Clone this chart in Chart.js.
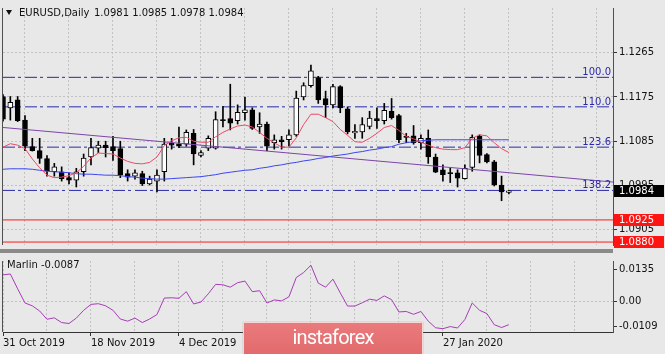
<!DOCTYPE html>
<html><head><meta charset="utf-8">
<script src="https://cdn.jsdelivr.net/npm/chart.js@4/dist/chart.umd.min.js"></script>
<style>
html,body{margin:0;padding:0;background:#e8e8e8;width:665px;height:354px;overflow:hidden;font-family:"DejaVu Sans",sans-serif;}
#wrap{position:relative;width:665px;height:354px;overflow:hidden;}
canvas{position:absolute;left:0;}
#main{top:0;}
#sub{top:253px;}
.sep{position:absolute;left:0;top:249px;width:613px;height:4px;background:#8a8a8a;}
.tri{position:absolute;left:6px;top:10px;width:0;height:0;border-left:3.5px solid transparent;border-right:3.5px solid transparent;border-top:5px solid #111;}
.txt{position:absolute;font-size:10px;line-height:12px;color:#111;white-space:pre;}
.wm{position:absolute;left:243px;top:322px;width:178px;height:40px;background:linear-gradient(#ea7a7c,#df6668);border:1px solid #f3d6d6;box-shadow:0 0 1px #999;}
.wm span{position:absolute;left:0;right:0;top:4px;text-align:center;font-family:Roboto,sans-serif;font-size:20px;line-height:20px;color:#fff;letter-spacing:-0.8px;}
</style></head>
<body><div id="wrap">
<canvas id="main" width="665" height="253"></canvas>
<canvas id="sub" width="665" height="101"></canvas>
<div class="sep"></div>
<div class="tri"></div>
<div class="txt" style="left:19px;top:7px;">EURUSD,Daily</div>
<div class="txt" style="left:94px;top:7px;">1.0981 1.0985 1.0978 1.0984</div>
<div class="txt" style="left:7px;top:259px;">Marlin -0.0087</div>
<div class="wm"><span>instaforex</span></div>
</div>
<script>
// ---------- data ----------
const opens  = [1.1176,1.1153,1.1169,1.1128,1.1074,1.1066,1.1050,1.1023,1.1023,1.1011,1.1006,1.1023,1.1053,1.1071,1.1077,1.1074,1.1070,1.1019,1.1014,1.1019,1.0998,1.1004,1.1023,1.1081,1.1080,1.1079,1.1101,1.1056,1.1071,1.1071,1.1129,1.1131,1.1127,1.1143,1.1149,1.1114,1.1120,1.1082,1.1088,1.1088,1.1098,1.1175,1.1198,1.1214,1.1172,1.1159,1.1196,1.1151,1.1102,1.1104,1.1115,1.1131,1.1127,1.1146,1.1137,1.1095,1.1096,1.1082,1.1091,1.1053,1.1027,1.1021,1.1021,1.1009,1.1032,1.1095,1.1058,1.1043,1.0996,1.0981];
const highs  = [1.1180,1.1176,1.1176,1.1137,1.1091,1.1091,1.1056,1.1040,1.1033,1.1021,1.1030,1.1059,1.1091,1.1085,1.1085,1.1095,1.1085,1.1027,1.1027,1.1024,1.1014,1.1027,1.1091,1.1091,1.1114,1.1108,1.1109,1.1066,1.1096,1.1145,1.1156,1.1201,1.1159,1.1175,1.1153,1.1143,1.1124,1.1098,1.1095,1.1108,1.1187,1.1204,1.1240,1.1217,1.1187,1.1201,1.1198,1.1155,1.1119,1.1133,1.1146,1.1153,1.1162,1.1172,1.1140,1.1101,1.1117,1.1098,1.1108,1.1059,1.1037,1.1030,1.1027,1.1037,1.1098,1.1098,1.1060,1.1046,1.1014,1.0985];
const lows   = [1.1126,1.1128,1.1125,1.1066,1.1065,1.1040,1.1014,1.1014,1.1004,1.0998,1.0992,1.1014,1.1037,1.1062,1.1053,1.1046,1.1011,1.1004,1.1008,1.0995,1.0996,1.0982,1.1004,1.1069,1.1072,1.1075,1.1037,1.1053,1.1066,1.1069,1.1114,1.1108,1.1120,1.1128,1.1109,1.1101,1.1066,1.1069,1.1069,1.1075,1.1095,1.1169,1.1195,1.1162,1.1133,1.1153,1.1143,1.1100,1.1091,1.1091,1.1110,1.1111,1.1120,1.1130,1.1082,1.1082,1.1079,1.1069,1.1040,1.1021,1.1004,1.1001,1.0992,1.1008,1.1024,1.1041,1.1041,1.0994,1.0964,1.0978];
const closes = [1.1130,1.1164,1.1127,1.1075,1.1066,1.1050,1.1024,1.1033,1.1009,1.1006,1.1023,1.1051,1.1072,1.1077,1.1072,1.1066,1.1017,1.1012,1.1021,1.0998,1.1008,1.1016,1.1079,1.1077,1.1075,1.1103,1.1059,1.1062,1.1091,1.1129,1.1127,1.1122,1.1144,1.1149,1.1111,1.1120,1.1075,1.1088,1.1084,1.1098,1.1173,1.1198,1.1228,1.1169,1.1159,1.1196,1.1153,1.1104,1.1105,1.1119,1.1132,1.1127,1.1148,1.1133,1.1088,1.1093,1.1082,1.1091,1.1053,1.1022,1.1017,1.1019,1.1010,1.1030,1.1093,1.1056,1.1043,1.0996,1.0982,1.0984];
const redMA  = [1.1073,1.1080,1.1077,1.1070,1.1049,1.1031,1.1016,1.1011,1.1012,1.1015,1.1021,1.1034,1.1051,1.1061,1.1060,1.1059,1.1051,1.1044,1.1040,1.1039,1.1042,1.1053,1.1076,1.1086,1.1092,1.1093,1.1085,1.1083,1.1083,1.1094,1.1103,1.1110,1.1116,1.1118,1.1114,1.1103,1.1091,1.1082,1.1073,1.1073,1.1092,1.1119,1.1140,1.1140,1.1133,1.1125,1.1109,1.1097,1.1084,1.1083,1.1091,1.1101,1.1113,1.1117,1.1107,1.1095,1.1090,1.1083,1.1077,1.1072,1.1069,1.1068,1.1068,1.1072,1.1091,1.1098,1.1096,1.1082,1.1070,1.1062];
const blueMA = [1.1028,1.1029,1.1029,1.1029,1.1028,1.1026,1.1024,1.1023,1.1022,1.1021,1.1019,1.1018,1.1018,1.1017,1.1016,1.1016,1.1015,1.1013,1.1012,1.1010,1.1009,1.1008,1.1008,1.1009,1.1010,1.1011,1.1012,1.1013,1.1015,1.1017,1.1020,1.1022,1.1024,1.1026,1.1027,1.1030,1.1032,1.1035,1.1037,1.1040,1.1042,1.1045,1.1047,1.1050,1.1052,1.1055,1.1057,1.1059,1.1062,1.1064,1.1067,1.1069,1.1072,1.1074,1.1079,1.1082,1.1084,1.1086,1.1087,1.1088,1.1088,1.1088,1.1088,1.1088,1.1088,1.1088,1.1088,1.1088,1.1088,1.1088];
const marlin = [0.0111,0.0115,0.0052,-0.0008,-0.0020,-0.0042,-0.0077,-0.0071,-0.0091,-0.0095,-0.0072,-0.0039,-0.0014,-0.0011,-0.0020,-0.0039,-0.0076,-0.0085,-0.0072,-0.0091,-0.0076,-0.0057,0.0013,0.0014,0.0012,0.0040,-0.0012,-0.0004,0.0031,0.0071,0.0069,0.0059,0.0078,0.0085,0.0040,0.0044,-0.0008,0.0005,0.0001,0.0018,0.0100,0.0121,0.0152,0.0076,0.0059,0.0093,0.0035,-0.0021,-0.0021,-0.0007,0.0008,0.0003,0.0022,0.0006,-0.0046,-0.0044,-0.0056,-0.0044,-0.0085,-0.0113,-0.0117,-0.0108,-0.0114,-0.0078,-0.0008,-0.0039,-0.0053,-0.0100,-0.0112,-0.0100];
const trendBars   = [0, 83.2];
const trendPrices = [1.1113, 1.1002];
const fibLabels = ['100.0','110.0','123.6','138.2'];
const fibPrices = [1.1215, 1.1155, 1.1073, 1.0985];
const levelPrices = [1.0925, 1.0880];
const currentPrice = 1.0984;
const priceTicks = [1.1265, 1.1175, 1.1085, 1.0995, 1.0905];
const marlinTicks = [0.0135, 0, -0.0109];
const marlinTickLabels = ['0.0135','0.00','-0.0109'];
const gridBars = [0,6,12,18,24,30,36,42,48,54,60,66,72,78];
const dateBars = [0, 12, 24, 60];
const dateTexts = ['31 Oct 2019','18 Nov 2019','4 Dec 2019','27 Jan 2020'];

// ---------- common ----------
const X_MIN = 0, X_MAX = 83.2;
const FONT = {family:'DejaVu Sans', size:10};
const GRID = '#c2c2c2';

const framePlugin = {
  id:'frame',
  afterDraw(chart){
    const {ctx, chartArea:a} = chart;
    ctx.save(); ctx.strokeStyle='#505050'; ctx.lineWidth=1;
    ctx.beginPath(); ctx.moveTo(2.5, a.top); ctx.lineTo(2.5, a.bottom); ctx.stroke();
    ctx.restore();
  }
};

const fibTextPlugin = {
  id:'fibText',
  afterDatasetsDraw(chart){
    const {ctx} = chart; const y = chart.scales.y;
    ctx.save(); ctx.font='10px "DejaVu Sans"'; ctx.fillStyle='#2a2aa8';
    ctx.textAlign='right'; ctx.textBaseline='alphabetic';
    fibPrices.forEach((p,i)=>{ ctx.fillText(fibLabels[i], 611, Math.round(y.getPixelForValue(p)) - 2); });
    ctx.restore();
  }
};

const priceBoxPlugin = {
  id:'priceBox',
  afterDraw(chart){
    const {ctx} = chart; const y = chart.scales.y;
    const boxes = [{v:currentPrice,bg:'#000'}].concat(levelPrices.map(v=>({v,bg:'#ff1414'})));
    ctx.save(); ctx.font='10px "DejaVu Sans"'; ctx.textAlign='left'; ctx.textBaseline='middle';
    boxes.forEach(b=>{
      const py = Math.round(y.getPixelForValue(b.v));
      ctx.fillStyle=b.bg; ctx.fillRect(614, py-6, 50, 12);
      ctx.fillStyle='#fff'; ctx.fillText(b.v.toFixed(4), 619, py+0.5);
    });
    ctx.restore();
  }
};

const idx = opens.map((_,i)=>i);
const hLine = p => [{x:X_MIN,y:p},{x:X_MAX,y:p}];

const mainDatasets = [
  {type:'bar', data: idx.map(i=>({x:i, y:[lows[i], highs[i]]})), backgroundColor:'#000', barThickness:1, grouped:false, order:5},
  {type:'bar', data: idx.map(i=>({x:i, y:[opens[i], closes[i]]})),
   backgroundColor: idx.map(i=> closes[i] >= opens[i] ? '#ffffff' : '#000000'),
   borderColor:'#000', borderWidth:1, borderSkipped:false, barThickness:5, minBarLength:1, grouped:false, order:4},
  {type:'line', data: trendBars.map((b,i)=>({x:b,y:trendPrices[i]})), borderColor:'#7d44a6', borderWidth:1, pointRadius:0, order:3},
  {type:'line', data: idx.map(i=>({x:i,y:blueMA[i]})), borderColor:'#3a46f2', borderWidth:1, pointRadius:0, order:2},
  {type:'line', data: idx.map(i=>({x:i,y:redMA[i]})), borderColor:'#ec4a66', borderWidth:1, pointRadius:0, order:1},
];
fibPrices.forEach(p=>mainDatasets.push({type:'line', data:hLine(p), borderColor:'#2a2aa8', borderWidth:1, borderDash:[12,3,3,4], pointRadius:0, order:8}));
levelPrices.forEach(p=>mainDatasets.push({type:'line', data:hLine(p), borderColor:'#ff1a1a', borderWidth:1, pointRadius:0, order:7}));

new Chart(document.getElementById('main'), {
  type:'bar',
  data:{datasets: mainDatasets},
  options:{
    responsive:false, animation:false, events:[],
    layout:{padding:{left:3, right:0, top:0, bottom:0}},
    plugins:{legend:{display:false}, tooltip:{enabled:false}},
    scales:{
      x:{type:'linear', min:X_MIN, max:X_MAX, offset:false,
         afterBuildTicks:s=>{ s.ticks = gridBars.map(v=>({value:v})); },
         afterFit:s=>{ s.height = 4; },
         ticks:{display:false},
         grid:{color:GRID, drawTicks:false},
         border:{display:false, dash:[2,2]}},
      y:{position:'right', min:1.0874, max:1.1356,
         afterBuildTicks:s=>{ s.ticks = priceTicks.map(v=>({value:v})); },
         afterFit:s=>{ s.width = 52; },
         ticks:{padding:2, color:'#111', font:FONT, callback:v=>Number(v).toFixed(4)},
         grid:{color:GRID, tickLength:4, tickColor:'#333'},
         border:{display:true, color:'#505050', dash:[2,2]}}
    }
  },
  plugins:[framePlugin, fibTextPlugin, priceBoxPlugin]
});

new Chart(document.getElementById('sub'), {
  type:'line',
  data:{datasets:[{data: idx.map(i=>({x:i,y:marlin[i]})), borderColor:'#a63cb6', borderWidth:1, pointRadius:0, tension:0}]},
  options:{
    responsive:false, animation:false, events:[],
    layout:{padding:{left:3, right:0, top:1, bottom:0}},
    plugins:{legend:{display:false}, tooltip:{enabled:false}},
    scales:{
      x:{type:'linear', min:X_MIN, max:X_MAX, offset:false,
         afterBuildTicks:s=>{ s.ticks = gridBars.map(v=>({value:v})); },
         afterFit:s=>{ s.height = 22; },
         ticks:{autoSkip:false, maxRotation:0, align:'start', padding:1, color:'#111', font:FONT,
                callback:v=>{ const k = dateBars.indexOf(v); return k>=0 ? dateTexts[k] : ''; }},
         grid:{color:GRID, tickLength:4, tickColor:c=> (c.tick && c.tick.value % 12 === 0 && c.tick.value <= 60) ? '#333' : 'rgba(0,0,0,0)'},
         border:{display:true, color:'#333', dash:[2,2]}},
      y:{position:'right', min:-0.0131, max:0.0170,
         afterBuildTicks:s=>{ s.ticks = marlinTicks.map(v=>({value:v})); },
         afterFit:s=>{ s.width = 52; },
         ticks:{padding:2, color:'#111', font:FONT,
                callback:v=>{ const k = marlinTicks.indexOf(v); return k>=0 ? marlinTickLabels[k] : ''; }},
         grid:{color:c=> (c.tick && c.tick.value === 0) ? GRID : 'rgba(0,0,0,0)', tickLength:4, tickColor:'#333'},
         border:{display:true, color:'#505050', dash:[2,2]}}
    }
  },
  plugins:[framePlugin]
});
</script>
</body></html>
